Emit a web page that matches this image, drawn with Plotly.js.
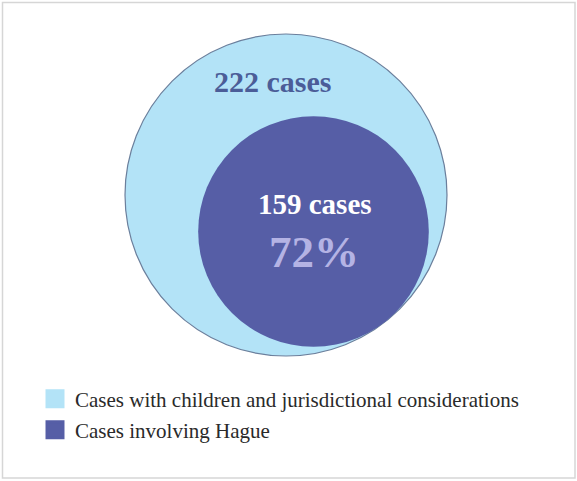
<!DOCTYPE html>
<html>
<head>
<meta charset="utf-8">
<script src="https://cdn.plot.ly/plotly-3.0.1.min.js"></script>
<style>html,body{margin:0;padding:0;background:#fff;}#chart{width:577px;height:481px;}</style>
</head>
<body>
<div id="chart"></div>
<script>
// ---- data ----
const categories = ["Cases with children and jurisdictional considerations", "Cases involving Hague"];
const caseCounts = [222, 159];
const fillColors = ["#b3e3f7", "#565ea6"];
const countLabels = caseCounts.map(c => c + " cases");
const shareLabel = Math.round(caseCounts[1] / caseCounts[0] * 100) + "%";

// ---- geometry (data units = cases; radius proportional to count) ----
const W = 577, H = 481;
const cx0 = 286, cy0 = 195;          // pixel centre of the outer circle
const k = 161 / caseCounts[0];       // px per unit
const xr = [-cx0 / k, (W - cx0) / k];
const yr = [-(H - cy0) / k, cy0 / k];
const R = caseCounts[0], r = caseCounts[1];
const theta = -53 * Math.PI / 180;   // direction in which inner circle touches outer
const icx = (R - r) * Math.cos(theta), icy = (R - r) * Math.sin(theta);

const shapes = [
  {type: "circle", xref: "x", yref: "y", x0: -R, x1: R, y0: -R, y1: R,
   fillcolor: fillColors[0], line: {color: "#6b7f9c", width: 1.2}, layer: "below"},
  {type: "circle", xref: "x", yref: "y", x0: icx - r, x1: icx + r, y0: icy - r, y1: icy + r,
   fillcolor: fillColors[1], line: {color: fillColors[1], width: 0}, layer: "below"},
  {type: "rect", xref: "paper", yref: "paper", x0: 2.5 / W, x1: 575 / W, y0: 1 - 478 / H, y1: 1 - 2.5 / H,
   line: {color: "#d6d6d6", width: 1.5}, fillcolor: "rgba(0,0,0,0)"}
];

const serif = "Liberation Serif, Times New Roman, serif";
const annotations = [
  {x: -14 / k, y: (cy0 - 81) / k, xref: "x", yref: "y", text: countLabels[0], showarrow: false,
   font: {family: serif, size: 30, color: "#4b5d98", weight: "bold"}},
  {x: icx + 1 / k, y: (cy0 - 204) / k, xref: "x", yref: "y", text: countLabels[1], showarrow: false,
   font: {family: serif, size: 29, color: "#ffffff", weight: "bold"}},
  {x: icx, y: (cy0 - 252) / k, xref: "x", yref: "y", text: shareLabel, showarrow: false,
   font: {family: serif, size: 45, color: "#b4b3e4", weight: "bold"}}
];

const traces = categories.map((name, i) => ({
  type: "scatter", mode: "markers", x: [null], y: [null], name: name,
  legend: i === 0 ? "legend" : "legend2",
  marker: {symbol: "square", size: 16, color: fillColors[i], line: {color: fillColors[i], width: 3}},
  hoverinfo: "skip"
}));

const legendFont = {family: serif, size: 21, color: "#2a2a2a"};
const layout = {
  width: W, height: H,
  margin: {l: 0, r: 0, t: 0, b: 0},
  paper_bgcolor: "#ffffff", plot_bgcolor: "#ffffff",
  xaxis: {range: xr, visible: false, fixedrange: true},
  yaxis: {range: yr, visible: false, fixedrange: true},
  shapes: shapes,
  annotations: annotations,
  showlegend: true,
  legend: {x: 35 / W, y: 1 - 399 / H, xanchor: "left", yanchor: "middle", font: legendFont,
           bgcolor: "rgba(0,0,0,0)", itemsizing: "trace"},
  legend2: {x: 35 / W, y: 1 - 430 / H, xanchor: "left", yanchor: "middle", font: legendFont,
            bgcolor: "rgba(0,0,0,0)", itemsizing: "trace"}
};

Plotly.newPlot("chart", traces, layout, {displayModeBar: false, staticPlot: true});
</script>
</body>
</html>
